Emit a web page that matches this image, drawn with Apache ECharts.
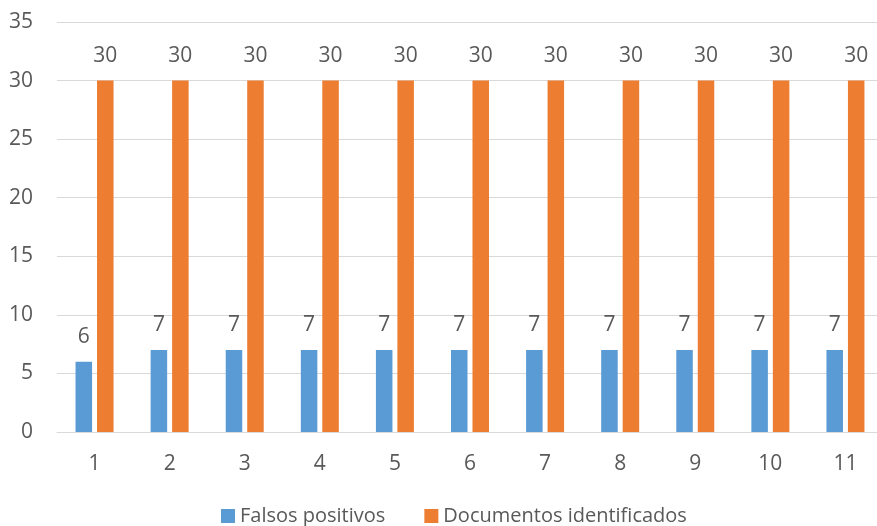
<!DOCTYPE html>
<html>
<head>
<meta charset="utf-8">
<script src="https://cdn.jsdelivr.net/npm/echarts@6/dist/echarts.min.js"></script>
<style>
  html, body { margin: 0; padding: 0; background: #fff; overflow: hidden; }
  #chart { width: 884px; height: 526px; }
</style>
</head>
<body>
<div id="chart"></div>
<script>
// Rounds 1..11
const categories = ['1', '2', '3', '4', '5', '6', '7', '8', '9', '10', '11'];
const falsosPositivos = [6, 7, 7, 7, 7, 7, 7, 7, 7, 7, 7];
const documentosIdentificados = [30, 30, 30, 30, 30, 30, 30, 30, 30, 30, 30];
const seriesNames = ['Falsos positivos', 'Documentos identificados'];

const textColor = '#595959';
const gridColor = '#d9d9d9';
const font = '"Open Sans", "Liberation Sans", sans-serif';
const fontSize = 21;

const chart = echarts.init(document.getElementById('chart'));

const labelStyle = {
  show: true,
  position: 'top',
  distance: 14,
  color: textColor,
  fontFamily: font,
  fontSize: fontSize
};

chart.setOption({
  animation: false,
  textStyle: { fontFamily: font },
  grid: { left: 57, top: 22, right: 1, height: 410, containLabel: false },
  legend: {
    left: 216,
    bottom: -5,
    itemWidth: 14,
    itemHeight: 14,
    itemGap: 39,
    icon: 'rect',
    textStyle: { color: textColor, fontFamily: font, fontSize: 20, padding: [0, 0, 0, 0] },
    data: seriesNames
  },
  xAxis: {
    type: 'category',
    data: categories,
    axisLine: { show: true, lineStyle: { color: gridColor, width: 1 } },
    axisTick: { show: false },
    axisLabel: { color: textColor, fontFamily: font, fontSize: fontSize, margin: 22 }
  },
  yAxis: {
    type: 'value',
    min: 0,
    max: 35,
    interval: 5,
    axisLine: { show: false },
    axisTick: { show: false },
    axisLabel: { color: textColor, fontFamily: font, fontSize: fontSize, margin: 24 },
    splitLine: { lineStyle: { color: gridColor, width: 1 } }
  },
  series: [
    {
      name: seriesNames[0],
      type: 'bar',
      data: falsosPositivos,
      barWidth: '22%',
      barGap: '30%',
      itemStyle: { color: '#5B9BD5' },
      label: labelStyle
    },
    {
      name: seriesNames[1],
      type: 'bar',
      data: documentosIdentificados,
      barWidth: '22%',
      barGap: '30%',
      itemStyle: { color: '#ED7D31' },
      label: labelStyle
    }
  ]
});
</script>
</body>
</html>
